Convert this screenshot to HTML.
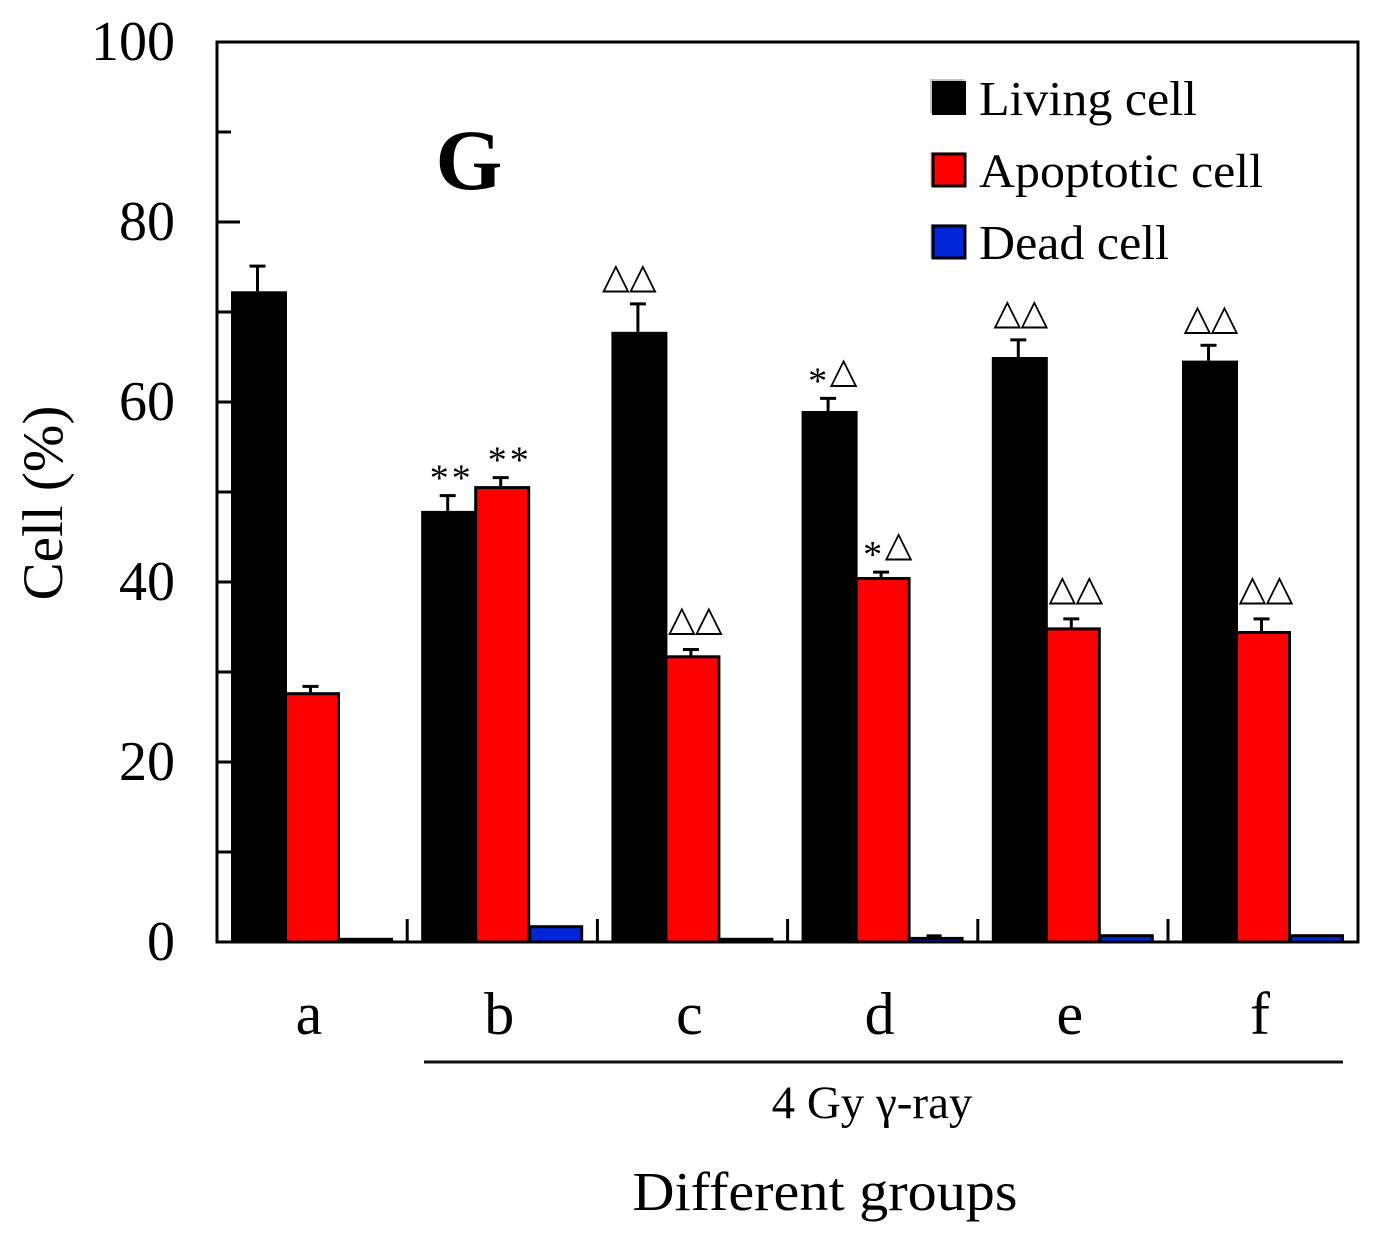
<!DOCTYPE html>
<html>
<head>
<meta charset="utf-8">
<title>Cell percentage by group</title>
<style>
html,body{margin:0;padding:0;background:#fff;width:1399px;height:1249px;overflow:hidden}
svg{display:block}
text{font-family:"Liberation Serif","DejaVu Serif",serif;fill:#000}
</style>
</head>
<body>
<svg id="chart" width="1399" height="1249" viewBox="0 0 1399 1249" xmlns="http://www.w3.org/2000/svg">
  <g id="marks"></g>
  <rect x="217" y="42" width="1141" height="900" fill="none" stroke="#000" stroke-width="3"/>
  <g id="axes"></g>
  <text x="469" y="189" font-size="86" font-weight="bold" text-anchor="middle">G</text>
  <g>
    <rect x="930" y="79" width="34" height="34" fill="#c4c4c4"/>
    <rect x="932" y="81" width="34" height="34" fill="#000"/>
    <text x="979" y="115" font-size="49" textLength="218" lengthAdjust="spacingAndGlyphs">Living cell</text>
    <rect x="930" y="152" width="34" height="34" fill="#ffcccc"/>
    <rect x="933" y="154" width="32" height="32" fill="#f00" stroke="#000" stroke-width="3"/>
    <text x="979" y="187" font-size="48" textLength="284" lengthAdjust="spacingAndGlyphs">Apoptotic cell</text>
    <rect x="930" y="224" width="34" height="34" fill="#ccd4f6"/>
    <rect x="933" y="226" width="32" height="32" fill="#0026d9" stroke="#000" stroke-width="3"/>
    <text x="979" y="259" font-size="49" textLength="190" lengthAdjust="spacingAndGlyphs">Dead cell</text>
  </g>
  <line x1="424" y1="1062" x2="1343" y2="1062" stroke="#111" stroke-width="3"/>
  <text x="872" y="1118" font-size="47" text-anchor="middle">4 Gy γ-ray</text>
  <text x="825" y="1210" font-size="55" text-anchor="middle" textLength="385" lengthAdjust="spacingAndGlyphs">Different groups</text>
  <text transform="translate(62,503) rotate(-90)" font-size="57" text-anchor="middle">Cell (%)</text>
</svg>
<script>
const categories = ['a', 'b', 'c', 'd', 'e', 'f'];
const livingValues = [72.3, 47.9, 67.8, 59.0, 65.0, 64.6];
const apoptoticValues = [27.7, 50.6, 31.8, 40.5, 34.9, 34.5];
const deadValues = [0.3, 1.7, 0.3, 0.4, 0.7, 0.7];
const livingErrors = [2.8, 1.7, 3.1, 1.4, 1.9, 1.7];
const apoptoticErrors = [0.7, 1.0, 0.7, 0.6, 1.0, 1.4];
const deadErrors = [0, 0, 0, 0.45, 0, 0];
const livingMarks = ['', '**', '△△', '*△', '△△', '△△'];
const apoptoticMarks = ['', '**', '△△', '*△', '△△', '△△'];
const yTickLabels = [0, 20, 40, 60, 80, 100];
const yMinorTicks = [10, 30, 50, 70, 90];

const NS = 'http://www.w3.org/2000/svg';
const marks = document.getElementById('marks');
const axes = document.getElementById('axes');

function yScale(v) { return 942 - v * 9; }
function groupX(i) { return 231 + i * 190.2; }

function make(parent, tag, attrs) {
  const el = document.createElementNS(NS, tag);
  Object.keys(attrs).forEach(function (k) { el.setAttribute(k, attrs[k]); });
  parent.appendChild(el);
  return el;
}

// Draws a pair of significance glyphs centred on cx, just above errTop
function addGlyphs(text, cx, errTop) {
  const chars = Array.from(text);
  const both = chars[0] === chars[1];
  const step = both ? (chars[0] === '*' ? 22 : 27) : 26;
  const t = make(marks, 'text', { fill: '#3a3a3a' });
  chars.forEach(function (c, k) {
    const isStar = c === '*';
    const span = make(t, 'tspan', {
      x: cx + (k - 0.5) * step,
      y: isStar ? errTop - 5 : errTop - 16,
      'font-size': isStar ? 38 : 36,
      'text-anchor': 'middle'
    });
    span.textContent = c;
  });
  return t;
}

categories.forEach(function (cat, i) {
  const x0 = groupX(i);

  // Dead cell bar, drawn first so its neighbours overlap it
  const dead = make(marks, 'rect', { x: x0 + 108.5, y: yScale(deadValues[i]), width: 52, height: 942 - yScale(deadValues[i]), fill: '#0026d9', stroke: '#000', 'stroke-width': 3 });
  
  
  if (deadErrors[i] > 0) {
    const deadTop = yScale(deadValues[i] + deadErrors[i]);
    const deadCap = make(marks, 'rect', { x: x0 + 125, y: deadTop, width: 15, height: yScale(deadValues[i]) - deadTop, fill: '#000' });
    
    
  }

  // Living cell error bar and bar
  const lx = x0 + 26.5;
  const lTop = yScale(livingValues[i]);
  const lErr = yScale(livingValues[i] + livingErrors[i]);
  const lStem = make(marks, 'line', { x1: lx, x2: lx, y1: lTop, y2: lErr, stroke: '#000', 'stroke-width': 3 });
  
  
  const lCap = make(marks, 'line', { x1: lx - 8, x2: lx + 8, y1: lErr, y2: lErr, stroke: '#000', 'stroke-width': 3 });
  
  
  const living = make(marks, 'rect', { x: x0, y: lTop, width: 56, height: 942 - lTop, fill: '#000' });
  
  

  // Apoptotic cell error bar and bar
  const ax = x0 + 79.5;
  const aTop = yScale(apoptoticValues[i]);
  const aErr = yScale(apoptoticValues[i] + apoptoticErrors[i]);
  const aStem = make(marks, 'line', { x1: ax, x2: ax, y1: aTop, y2: aErr, stroke: '#000', 'stroke-width': 3 });
  
  
  const aCap = make(marks, 'line', { x1: ax - 8, x2: ax + 8, y1: aErr, y2: aErr, stroke: '#000', 'stroke-width': 3 });
  
  
  const apoptotic = make(marks, 'rect', { x: x0 + 54.5, y: aTop + 1, width: 53, height: 941 - aTop, fill: '#f00', stroke: '#000', 'stroke-width': 3 });
  
  

  // Significance marks
  if (livingMarks[i]) {
    const t = addGlyphs(livingMarks[i], x0 + (cat === 'c' ? 18 : 29), lErr);
    
    
  }
  if (apoptoticMarks[i]) {
    const t = addGlyphs(apoptoticMarks[i], x0 + (cat === 'b' ? 87 : 84), aErr - (apoptoticMarks[i] === '△△' ? 3 : 0));
    
    
  }

  // Category label
  const label = make(axes, 'text', { x: x0 + 78, y: 1034, 'font-size': 60, 'text-anchor': 'middle' });
  label.textContent = cat;
  
  

  // Group separator tick
  if (i > 0) {
    const tick = make(axes, 'line', { x1: x0 - 14, x2: x0 - 14, y1: 919, y2: 942, stroke: '#000', 'stroke-width': 3 });
    
    
  }
});

yTickLabels.forEach(function (v) {
  if (v > 0 && v < 100) {
    const tick = make(axes, 'line', { x1: 217, x2: 240, y1: yScale(v), y2: yScale(v), stroke: '#000', 'stroke-width': 3 });
    
    
  }
  const label = make(axes, 'text', { x: 175, y: yScale(v) + 18, 'font-size': 56, 'text-anchor': 'end' });
  label.textContent = v;
  
  
});

yMinorTicks.forEach(function (v) {
  const tick = make(axes, 'line', { x1: 217, x2: 231, y1: yScale(v), y2: yScale(v), stroke: '#000', 'stroke-width': 3 });
  
  
});
</script>
</body>
</html>
